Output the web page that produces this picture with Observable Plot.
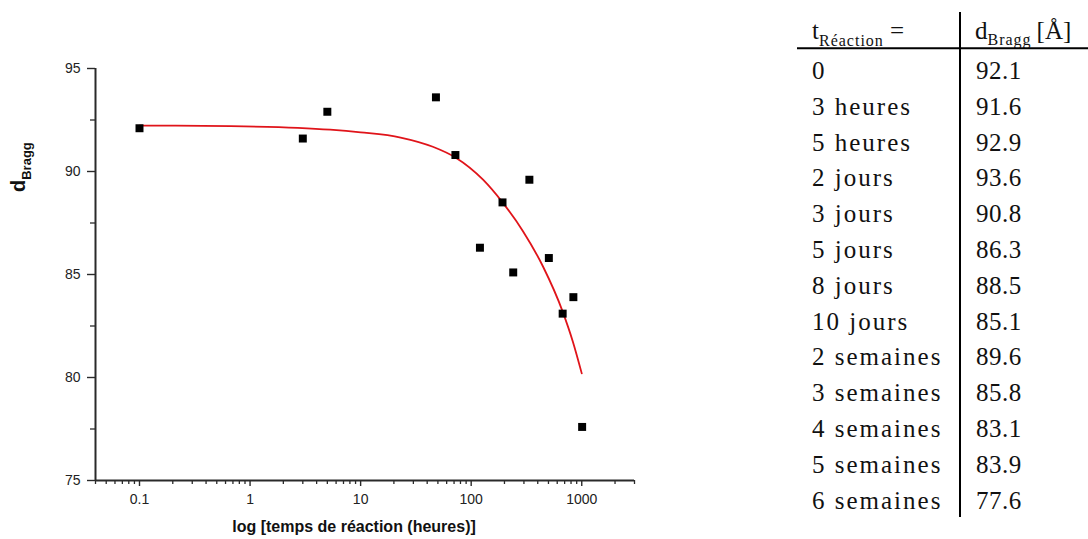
<!DOCTYPE html>
<html>
<head>
<meta charset="utf-8">
<script src="https://cdn.jsdelivr.net/npm/d3@7"></script>
<script src="https://cdn.jsdelivr.net/npm/@observablehq/plot@0.6"></script>
<style>
  body { margin: 0; background: #fff; }
  #chart { position: relative; width: 1088px; height: 539px; overflow: hidden; }
  #chart svg text.serif { font-family: 'Liberation Serif', 'Times New Roman', serif !important; }
</style>
</head>
<body>
<div id="chart"></div>
<script>
// ---- data ----
const timeLabels = ["0", "3 heures", "5 heures", "2 jours", "3 jours", "5 jours", "8 jours",
  "10 jours", "2 semaines", "3 semaines", "4 semaines", "5 semaines", "6 semaines"];
// reaction time in hours (t = 0 is plotted at 0.1 h on the log axis)
const hours = [0.1, 3, 5, 48, 72, 120, 192, 240, 336, 504, 672, 840, 1008];
const dBragg = [92.1, 91.6, 92.9, 93.6, 90.8, 86.3, 88.5, 85.1, 89.6, 85.8, 83.1, 83.9, 77.6];
const dBraggText = ["92.1", "91.6", "92.9", "93.6", "90.8", "86.3", "88.5", "85.1", "89.6", "85.8", "83.1", "83.9", "77.6"];

// red fitted curve
const fitHours = [0.1, 0.67, 2.7, 5.3, 10, 23, 45, 72, 128, 192, 294, 445, 672, 830, 1000];
const fitValues = [92.23, 92.2, 92.12, 92.03, 91.9, 91.65, 91.2, 90.68, 89.6, 88.5, 87.1, 85.4, 83.2, 81.75, 80.2];

const xMajorTicks = [0.1, 1, 10, 100, 1000];
const yMajorTicks = [75, 80, 85, 90, 95];
const yMinorTicks = [77.5, 82.5, 87.5, 92.5];
const xDomain = [0.04, 3000];
const yDomain = [75, 95];

const xTitle = "log [temps de réaction (heures)]";
const yTitleMain = "d", yTitleSub = "Bragg";
const headT = "t", headTSub = "Réaction", headEq = "=";
const headD = "d", headDSub = "Bragg", headUnit = "[Å]";

// ---- build ----
const points = hours.map((h, i) => ({h, d: dBragg[i]}));
const fit = fitHours.map((h, i) => ({h, d: fitValues[i]}));
const xMinorTicks = d3.scaleLog().domain(xDomain).ticks().filter(t => !xMajorTicks.some(m => Math.abs(m - t) < 1e-9));

const W = 1088, H = 539;
const axisColor = "#2a2a2a";

const svg = Plot.plot({
  width: W, height: H,
  marginLeft: 95, marginRight: 454, marginTop: 68, marginBottom: 59,
  x: {type: "log", domain: xDomain},
  y: {domain: yDomain},
  style: {fontFamily: "'Liberation Sans', Arial, sans-serif", color: "#222", background: "transparent", overflow: "visible"},
  marks: [
    Plot.axisX(xMinorTicks, {tickSize: 4, tickFormat: () => "", label: null, stroke: axisColor, strokeWidth: 1.3}),
    Plot.axisX(xMajorTicks, {tickSize: 6, tickPadding: 8, tickFormat: d => String(d), label: null, fontSize: 14, stroke: axisColor, strokeWidth: 1.4}),
    Plot.axisY(yMinorTicks, {tickSize: 5, tickFormat: () => "", label: null, stroke: axisColor, strokeWidth: 1.3}),
    Plot.axisY(yMajorTicks, {tickSize: 8, tickPadding: 7, label: null, fontSize: 14, stroke: axisColor, strokeWidth: 1.4}),
    Plot.ruleX([xDomain[0]], {stroke: axisColor, strokeWidth: 2}),
    Plot.ruleY([yDomain[0]], {stroke: axisColor, strokeWidth: 2}),
    Plot.line(fit, {x: "h", y: "d", stroke: "#e0141a", strokeWidth: 1.8, curve: "monotone-x"}),
    Plot.dot(points, {x: "h", y: "d", symbol: "square", r: 4.5, fill: "#000", stroke: "none"}),
    Plot.text([xTitle], {frameAnchor: "bottom", dx: -11, dy: 51, fontWeight: "bold", fontSize: 16, fill: "#111"})
  ]
});

const s = d3.select(svg);

// y title with subscript
const yt = s.append("text")
  .attr("transform", "translate(25,192) rotate(-90)")
  .attr("text-anchor", "start")
  .attr("font-family", "'Liberation Sans', Arial, sans-serif")
  .attr("font-weight", "bold")
  .attr("fill", "#111");
yt.append("tspan").attr("font-size", 20).text(yTitleMain);
yt.append("tspan").attr("font-size", 13).attr("dy", 6).text(yTitleSub);

// table on the right
const tbl = s.append("g").attr("fill", "#111").attr("text-anchor", "start");
const col1 = 812, col2 = 976, row0 = 79, rowStep = 35.8, headBase = 39;

const h1 = tbl.append("text").attr("class", "serif").attr("x", col1).attr("y", headBase).attr("font-size", 25).attr("text-anchor", "start");
h1.append("tspan").text(headT);
h1.append("tspan").attr("font-size", 16).attr("dy", 6.5).attr("letter-spacing", 1).text(headTSub);
tbl.append("text").attr("class", "serif").attr("x", 890).attr("y", headBase).attr("font-size", 25).attr("text-anchor", "start").text(headEq);

const h2 = tbl.append("text").attr("class", "serif").attr("x", col2 - 1).attr("y", headBase).attr("font-size", 25).attr("text-anchor", "start");
h2.append("tspan").text(headD);
h2.append("tspan").attr("font-size", 16).attr("dy", 6).attr("letter-spacing", 1).text(headDSub);
h2.append("tspan").attr("dy", -6).attr("dx", 5).text(headUnit);

tbl.selectAll("text.lab").data(timeLabels).join("text")
  .attr("class", "lab serif")
  .attr("x", col1).attr("y", (d, i) => row0 + i * rowStep)
  .attr("font-size", 25).attr("letter-spacing", 2).attr("text-anchor", "start")
  .text(d => d);
tbl.selectAll("text.val").data(dBraggText).join("text")
  .attr("class", "val serif")
  .attr("x", col2).attr("y", (d, i) => row0 + i * rowStep)
  .attr("font-size", 25).attr("letter-spacing", 0.5).attr("text-anchor", "start")
  .text(d => d);

tbl.append("line").attr("x1", 960).attr("x2", 960).attr("y1", 12).attr("y2", 517)
  .attr("stroke", "#000").attr("stroke-width", 2);
tbl.append("line").attr("x1", 797).attr("x2", 1088).attr("y1", 48.3).attr("y2", 48.3)
  .attr("stroke", "#000").attr("stroke-width", 2);

document.getElementById("chart").appendChild(svg);
</script>
</body>
</html>
